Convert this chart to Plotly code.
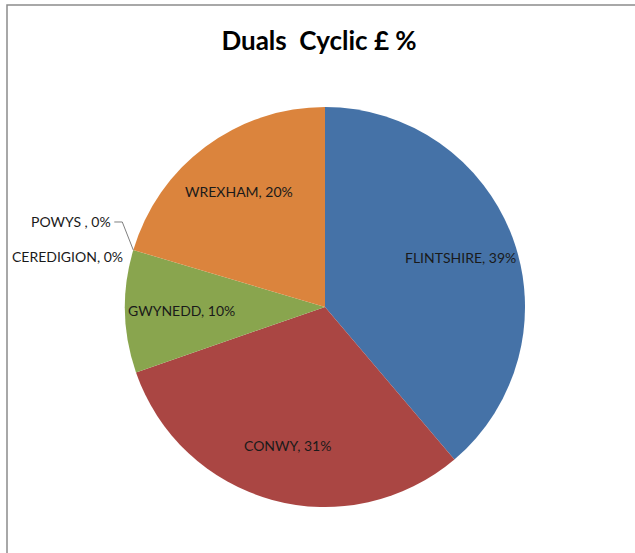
import math
import plotly.graph_objects as go

# Slice data (clockwise from 12 o'clock)
districts = ["FLINTSHIRE", "CONWY", "GWYNEDD", "CEREDIGION", "POWYS ", "WREXHAM"]
shares = [38.8, 30.9, 9.9, 0.0, 0.0, 20.4]
colors = ["#4572A7", "#AA4643", "#89A54E", "#80699B", "#3D96AE", "#DB843D"]

W, H = 635, 553
CX, CY, R = 325, 307, 200  # pie centre / radius in px


def to_paper(px, py):
    return px / W, 1 - py / H


def edge_point(frac, rr):
    ang = 2 * math.pi * frac
    return CX + rr * R * math.sin(ang), CY - rr * R * math.cos(ang)


total = sum(shares)
fig = go.Figure(
    go.Pie(
        labels=districts,
        values=shares,
        sort=False,
        direction="clockwise",
        rotation=0,
        marker=dict(colors=colors, line=dict(width=0)),
        textinfo="none",
        hoverinfo="label+percent",
        showlegend=False,
        domain=dict(x=[(CX - R) / W, (CX + R) / W], y=[1 - (CY + R) / H, 1 - (CY - R) / H]),
    )
)

annotations = []
shapes = []
font = dict(family="Lato, Open Sans, sans-serif", size=14, color="#1a1a1a")
cum = 0.0
for name, v in zip(districts, shares):
    frac = v / total
    mid = cum + frac / 2
    cum += frac
    text = f"{name}, {round(100 * frac):.0f}%"
    if frac > 0.02:
        x, y = to_paper(*edge_point(mid, 0.72))
        annotations.append(dict(x=x, y=y, xref="paper", yref="paper", text=text,
                                showarrow=False, font=font,
                                xanchor="center", yanchor="middle"))
    else:
        ex, ey = edge_point(mid, 1.0)
        if name.startswith("CEREDIGION"):
            x, y = to_paper(ex - 8, ey + 7)
            annotations.append(dict(x=x, y=y, xref="paper", yref="paper", text=text,
                                    showarrow=False, font=font,
                                    xanchor="right", yanchor="middle"))
        else:
            bx, by = ex - 11, ey - 28
            lx = bx - 8
            x0, y0 = to_paper(lx, by)
            x1, y1 = to_paper(bx, by)
            x2, y2 = to_paper(ex, ey)
            shapes.append(dict(type="path", xref="paper", yref="paper",
                               path=f"M {x0},{y0} L {x1},{y1} L {x2},{y2}",
                               line=dict(color="#7f7f7f", width=1)))
            x, y = to_paper(lx - 1, by)
            annotations.append(dict(x=x, y=y, xref="paper", yref="paper", text=text,
                                    showarrow=False, font=font,
                                    xanchor="right", yanchor="middle"))

# chart frame (only top/left visible in the crop)
shapes.append(dict(type="rect", xref="paper", yref="paper",
                   x0=7 / W, y0=-0.05, x1=1.05, y1=1 - 5 / H,
                   line=dict(color="#8c8c8c", width=1.5), fillcolor="rgba(0,0,0,0)"))

fig.update_layout(
    width=W,
    height=H,
    margin=dict(l=0, r=0, t=0, b=0),
    paper_bgcolor="white",
    title=dict(text="<b>Duals  Cyclic £ %</b>", x=319 / W, y=1 - 41 / H,
               xanchor="center", yanchor="middle",
               font=dict(family="Lato, Open Sans, sans-serif", size=26, color="black")),
    annotations=annotations,
    shapes=shapes,
)

fig.write_html("out.html", config={"displayModeBar": False},
               post_script="document.body.style.margin='0';")
